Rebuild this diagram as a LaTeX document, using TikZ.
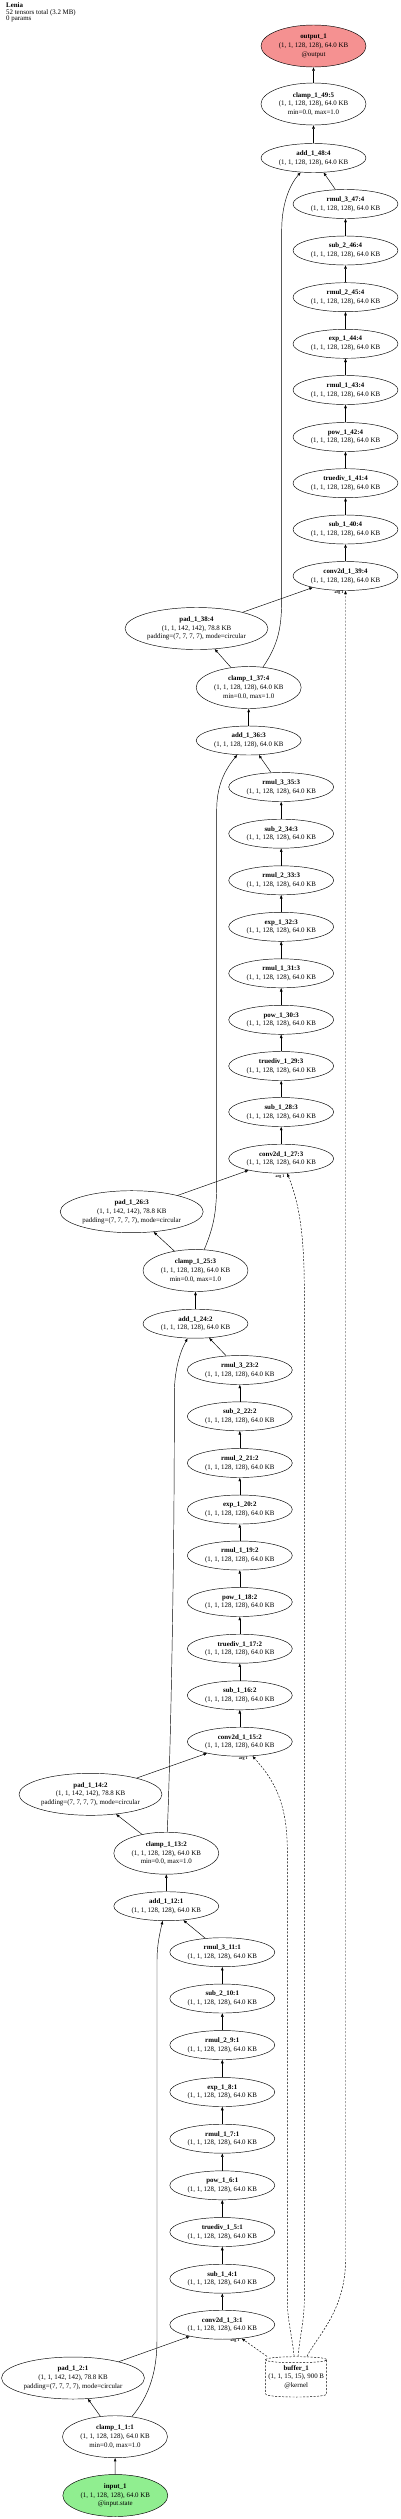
\documentclass[tikz,border=0pt]{standalone}
\usepackage{fontspec}
\setmainfont{Liberation Serif}
\usetikzlibrary{shapes.geometric,arrows.meta}
\newcommand\nfont{\fontsize{6.9}{8.7}\selectfont}
\newcommand\hfont{\fontsize{6.9}{6.6}\selectfont}
\newcommand\lfont{\fontsize{4}{4}\selectfont\bfseries}
\newcommand\shp{(1, 1, 128, 128), 64.0 KB}
\newcommand\mkop[4][op]{\node[#1] (#2) at (#3) {\textbf{#4}\\\shp};}
\newcommand\mkclamp[3]{\node[op3] (#1) at (#2) {\textbf{#3}\\\shp\\min=0.0, max=1.0};}
\newcommand\mkpad[3]{\node[padn] (#1) at (#2) {\textbf{#3}\\(1, 1, 142, 142), 78.8 KB\\padding=(7, 7, 7, 7), mode=circular};}
\tikzset{
  op/.style={ellipse, draw, line width=0.45pt, minimum width=105pt, minimum height=29pt, inner sep=0pt, align=center, font=\nfont},
  op3/.style={op, minimum height=42pt},
  padn/.style={op, minimum width=143pt, minimum height=42pt, inner xsep=-15pt},
  edge/.style={-{Triangle[length=3.5pt,width=2.6pt]}, line width=0.45pt},
  dedge/.style={edge, dash pattern=on 2pt off 1.5pt},
  lbl/.style={inner sep=0pt, font=\lfont},
}
\begin{document}
\begin{tikzpicture}[x=1pt,y=-1pt]
\useasboundingbox (0,0) rectangle (400,2519);
\node[anchor=north west, align=left, inner sep=0pt, font=\hfont] (hdr) at (6,2.5) {\textbf{Lenia}\\52 tensors total (3.2 MB)\\0 params};

% block 4
\node[op3, fill={rgb,255:red,245;green,145;blue,145}] (out) at (313.5,46) {\textbf{output\_1}\\\shp\\@output};
\mkclamp{c49}{313.5,104}{clamp\_1\_49:5}
\mkop{a48}{313.5,158}{add\_1\_48:4}
\mkop{r347}{345.5,204}{rmul\_3\_47:4}
\mkop{s246}{345.5,250.5}{sub\_2\_46:4}
\mkop{r245}{345.5,297.2}{rmul\_2\_45:4}
\mkop{e44}{345.5,343.8}{exp\_1\_44:4}
\mkop{r143}{345.5,390}{rmul\_1\_43:4}
\mkop{p42}{345.5,437}{pow\_1\_42:4}
\mkop{t41}{345.5,483.2}{truediv\_1\_41:4}
\mkop{s140}{345.5,529.5}{sub\_1\_40:4}
\mkop{c39}{345.5,576}{conv2d\_1\_39:4}
\mkpad{pad38}{196.5,628.5}{pad\_1\_38:4}
\mkclamp{cl37}{248.7,687.5}{clamp\_1\_37:4}
% block 3
\mkop{a36}{248.7,740.5}{add\_1\_36:3}
\mkop{r335}{281.2,787}{rmul\_3\_35:3}
\mkop{s234}{281.2,833.7}{sub\_2\_34:3}
\mkop{r233}{281.2,880.3}{rmul\_2\_33:3}
\mkop{e32}{281.2,926.8}{exp\_1\_32:3}
\mkop{r131}{281.2,973.3}{rmul\_1\_31:3}
\mkop{p30}{281.2,1019.8}{pow\_1\_30:3}
\mkop{t29}{281.2,1066}{truediv\_1\_29:3}
\mkop{s128}{281.2,1112}{sub\_1\_28:3}
\mkop{c27}{281.2,1158.7}{conv2d\_1\_27:3}
\mkpad{pad26}{131.7,1211.7}{pad\_1\_26:3}
\mkclamp{cl25}{195.5,1270.5}{clamp\_1\_25:3}
% block 2
\mkop{a24}{195.5,1323.7}{add\_1\_24:2}
\mkop{r323}{239.8,1370}{rmul\_3\_23:2}
\mkop{s222}{239.8,1416.3}{sub\_2\_22:2}
\mkop{r221}{239.8,1463}{rmul\_2\_21:2}
\mkop{e20}{239.8,1509.5}{exp\_1\_20:2}
\mkop{r119}{239.8,1555.5}{rmul\_1\_19:2}
\mkop{p18}{239.8,1602}{pow\_1\_18:2}
\mkop{t17}{239.8,1648.7}{truediv\_1\_17:2}
\mkop{s116}{239.8,1695.3}{sub\_1\_16:2}
\mkop{c15}{239.8,1741.7}{conv2d\_1\_15:2}
\mkpad{pad14}{90.5,1794.3}{pad\_1\_14:2}
\mkclamp{cl13}{166.3,1853.2}{clamp\_1\_13:2}
% block 1
\mkop{a12}{166.3,1906.2}{add\_1\_12:1}
\mkop{r311}{222.3,1952.2}{rmul\_3\_11:1}
\mkop{s210}{222.3,1998.5}{sub\_2\_10:1}
\mkop{r29}{222.3,2045}{rmul\_2\_9:1}
\mkop{e8}{222.3,2092}{exp\_1\_8:1}
\mkop{r17}{222.3,2138.7}{rmul\_1\_7:1}
\mkop{p6}{222.3,2185.3}{pow\_1\_6:1}
\mkop{t5}{222.3,2232}{truediv\_1\_5:1}
\mkop{s14}{222.3,2278.7}{sub\_1\_4:1}
\mkop{c3}{222.3,2324.7}{conv2d\_1\_3:1}
\mkpad{pad2}{73,2378}{pad\_1\_2:1}
\mkclamp{cl1}{115,2436.7}{clamp\_1\_1:1}
\node[op3, fill={rgb,255:red,144;green,238;blue,144}] (in) at (115.3,2495.5) {\textbf{input\_1}\\\shp\\@input.state};

% buffer (cylinder)
\node[inner sep=0pt, minimum width=61pt, minimum height=41pt, align=center, font=\nfont] (buf) at (296.2,2377) {\textbf{buffer\_1}\\(1, 1, 15, 15), 900 B\\@kernel};
\draw[line width=0.45pt, dash pattern=on 2pt off 1.5pt]
  (265.7,2359.7) .. controls (265.7,2355.7) and (326.7,2355.7) .. (326.7,2359.7)
  .. controls (326.7,2363.7) and (265.7,2363.7) .. (265.7,2359.7)
  -- (265.7,2394) .. controls (265.7,2398) and (326.7,2398) .. (326.7,2394)
  -- (326.7,2359.7);

% straight edges
\foreach \a/\b in {c49/out,a48/c49,r347/a48,s246/r347,r245/s246,e44/r245,r143/e44,p42/r143,t41/p42,s140/t41,c39/s140,pad38/c39,cl37/pad38,
  a36/cl37,r335/a36,s234/r335,r233/s234,e32/r233,r131/e32,p30/r131,t29/p30,s128/t29,c27/s128,pad26/c27,cl25/pad26,
  a24/cl25,r323/a24,s222/r323,r221/s222,e20/r221,r119/e20,p18/r119,t17/p18,s116/t17,c15/s116,pad14/c15,cl13/pad14,
  a12/cl13,r311/a12,s210/r311,r29/s210,e8/r29,r17/e8,p6/r17,t5/p6,s14/t5,c3/s14,pad2/c3,cl1/pad2,in/cl1}
  \draw[edge] (\a) -- (\b);

% residual curves
\draw[edge] (cl37) .. controls (281.7,640) and (281.7,620) .. (281.7,590) -- (281.7,230) .. controls (281.7,200) and (292,182) .. (a48);
\draw[edge] (cl25) .. controls (214.5,1225) and (216.7,1210) .. (216.7,1180) -- (216.7,810) .. controls (216.7,785) and (225,770) .. (a36);
\draw[edge] (cl13) .. controls (170,1770) and (174.3,1580) .. (174.3,1420) -- (174.3,1395) .. controls (174.3,1370) and (180,1352) .. (a24);
\draw[edge] (cl1) .. controls (150,2395) and (157,2370) .. (157,2340) -- (157,1960) .. controls (157,1945) and (160,1932) .. (a12);

% kernel edges
\draw[dedge] (buf) -- (c3);
\draw[dedge] (buf) .. controls (292,2335) and (287.3,2320) .. (287.3,2300) -- (287.3,1850) .. controls (287.3,1800) and (272,1778) .. (c15);
\draw[dedge] (buf) .. controls (300,2335) and (304.3,2320) .. (304.3,2300) -- (304.3,1290) .. controls (304.3,1230) and (298,1200) .. (c27);
\draw[dedge] (buf) .. controls (318,2335) and (345.5,2310) .. (345.5,2260) -- (c39);

% edge labels
\node[lbl] (l3) at (235,2340.7) {arg 1};
\node[lbl] (l15) at (243.3,1758.3) {arg 1};
\node[lbl] (l27) at (280,1176.5) {arg 1};
\node[lbl] (l39) at (339,593) {arg 1};
\end{tikzpicture}
\end{document}
